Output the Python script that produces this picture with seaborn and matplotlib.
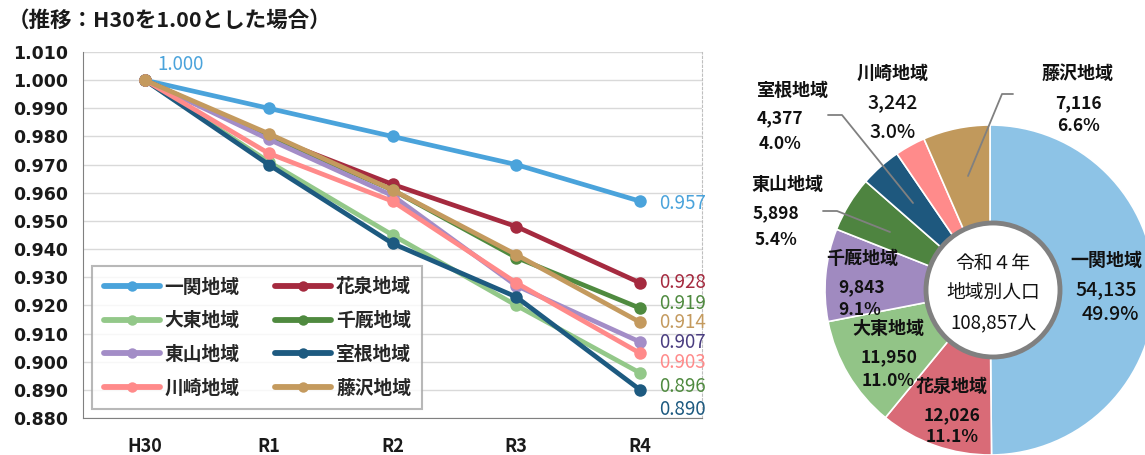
import pandas as pd
import matplotlib
matplotlib.use('Agg')
import matplotlib.pyplot as plt
import seaborn as sns
from matplotlib.patches import Circle
from matplotlib.lines import Line2D

# --- data ---
years = ['H30', 'R1', 'R2', 'R3', 'R4']
regions = ['一関地域', '花泉地域', '大東地域', '千厩地域',
           '東山地域', '室根地域', '川崎地域', '藤沢地域']
ichinoseki = [1.000, 0.990, 0.980, 0.970, 0.957]
hanaizumi = [1.000, 0.980, 0.963, 0.948, 0.928]
daito = [1.000, 0.971, 0.945, 0.920, 0.896]
senmaya = [1.000, 0.980, 0.961, 0.937, 0.919]
higashiyama = [1.000, 0.979, 0.959, 0.927, 0.907]
murone = [1.000, 0.970, 0.942, 0.923, 0.890]
kawasaki = [1.000, 0.974, 0.957, 0.928, 0.903]
fujisawa = [1.000, 0.981, 0.961, 0.938, 0.914]
series = [ichinoseki, hanaizumi, daito, senmaya, higashiyama, murone, kawasaki, fujisawa]

pop_r4 = [54135, 12026, 11950, 9843, 5898, 4377, 3242, 7116]
pct_r4 = ['49.9%', '11.1%', '11.0%', '9.1%', '5.4%', '4.0%', '3.0%', '6.6%']
total_label = '108,857人'

line_colors = ['#4AA3DB', '#A52A3F', '#93C889', '#4F8A3F',
               '#A38DC7', '#1D5A80', '#FF8A8A', '#C49A5E']
end_label_colors = ['#4AA3DB', '#A52A3F', '#4F8A3F', '#4F8A3F',
                    '#4A3D80', '#1D5A80', '#FF8A8A', '#C49A5E']
pie_colors = ['#8DC3E6', '#D96B77', '#92C487', '#A08AC0',
              '#4E8440', '#1E587E', '#FF8B8B', '#C1995C']

sns.set_style('white')
plt.rcParams['font.family'] = ['Noto Sans CJK JP', 'DejaVu Sans']

W, H = 1145, 455
fig = plt.figure(figsize=(W / 100, H / 100), dpi=100)

# ---------------- line chart ----------------
ax = fig.add_axes([83 / W, 37 / H, 619 / W, 366 / H])

df = pd.DataFrame({
    'year': years * len(regions),
    'region': [r for r in regions for _ in years],
    'ratio': [v for s in series for v in s],
})
palette = dict(zip(regions, line_colors))
sns.lineplot(data=df, x='year', y='ratio', hue='region', hue_order=regions,
             palette=palette, marker='o', markersize=9, markeredgewidth=0,
             linewidth=3.4, legend=False, ax=ax, sort=False)

ax.set_xlim(-0.5, 4.5)
ax.set_ylim(0.880, 1.010)
ax.set_yticks([0.880 + 0.010 * i for i in range(14)])
ax.yaxis.set_major_formatter(matplotlib.ticker.FormatStrFormatter('%.3f'))
ax.set_xticks(range(len(years)))
ax.set_xticklabels(years)
ax.set_xticks([0.5 + i for i in range(4)], minor=True)
ax.tick_params(axis='x', which='major', length=0, pad=14)
ax.tick_params(axis='x', which='minor', length=5, color='#808080', direction='out')
ax.tick_params(axis='y', length=5, color='#808080', direction='out', pad=6)
for lab in ax.get_yticklabels():
    lab.set_fontweight('bold')
    lab.set_fontfamily('DejaVu Sans')
    lab.set_fontsize(12.5)
    lab.set_color('#1a1a1a')
for lab in ax.get_xticklabels():
    lab.set_fontweight('bold')
    lab.set_fontsize(13)
    lab.set_color('#1a1a1a')
ax.grid(axis='y', color='#d9d9d9', linewidth=1)
ax.set_axisbelow(True)
ax.set_xlabel('')
ax.set_ylabel('')
ax.spines['top'].set_visible(False)
ax.spines['left'].set_color('#808080')
ax.spines['bottom'].set_color('#808080')
ax.spines['right'].set_color('#bfbfbf')
ax.spines['right'].set_linestyle((0, (2, 2)))

# end-of-line value labels (offsets in points, same order as series)
end_offsets = [-1.5, 0, -10, 3.6, -0.5, -14.4, -6.5, 0]
for s, c, dy in zip(series, end_label_colors, end_offsets):
    ax.annotate(f'{s[-1]:.3f}', xy=(4, s[-1]), xytext=(14, dy),
                textcoords='offset points', va='center', ha='left',
                color=c, fontsize=13.5)
ax.annotate(f'{ichinoseki[0]:.3f}', xy=(0, ichinoseki[0]), xytext=(26, 11),
            textcoords='offset points', va='center', ha='center',
            color=line_colors[0], fontsize=13.5)

# legend, 2 columns filled row by row
order = [0, 2, 4, 6, 1, 3, 5, 7]
handles = [Line2D([], [], color=line_colors[i], linewidth=4.2, marker='o',
                  markersize=7.5, markeredgewidth=0) for i in order]
leg = ax.legend(handles, [regions[i] for i in order], ncol=2,
                loc='lower left', bbox_to_anchor=(0.0, 0.0),
                frameon=True, fancybox=False, edgecolor='#a6a6a6',
                prop={'weight': 'bold', 'size': 13.5}, handlelength=3.0,
                columnspacing=1.9, labelspacing=0.78, borderpad=0.6,
                handletextpad=0.25, borderaxespad=0.5)
leg.get_frame().set_linewidth(1.5)

fig.text(8 / W, 1 - 20 / H, '（推移：H30を1.00とした場合）', fontsize=15.5,
         fontweight='bold', va='center', ha='left', color='#1a1a1a')

# ---------------- pie chart ----------------
cx, cy, R = 990, 290, 165
pax = fig.add_axes([(cx - R) / W, (H - cy - R) / H, 2 * R / W, 2 * R / H])
pax.pie(pop_r4, colors=pie_colors, startangle=90, counterclock=False,
        radius=1, wedgeprops=dict(edgecolor='white', linewidth=1.2))
pax.set_xlim(-1, 1)
pax.set_ylim(-1, 1)
pax.set_aspect('equal')
pax.axis('off')


def px(x, y):
    return (x - cx) / R, (cy - y) / R


pax.add_patch(Circle(px(993, 290), 67 / R, facecolor='white',
                     edgecolor='#808080', linewidth=3.5, zorder=5))
for txt, y in zip(['令和４年', '地域別人口', total_label], [263, 292, 323]):
    pax.text(*px(993, y), txt, ha='center', va='center', fontsize=13.5,
             zorder=6, color='#111111')

# label anchors (name, value, percent) per wedge, in pixel coords
label_pos = [
    [(1106, 260), (1106, 290), (1110, 315)],
    [(952, 386), (952, 415), (952, 437)],
    [(888, 329), (889, 357), (888, 381)],
    [(862, 258), (862, 287), (860, 310)],
    [(787, 185), (776, 213), (776, 240)],
    [(793, 90), (780, 118), (780, 144)],
    [(893, 73), (893, 103), (893, 133)],
    [(1078, 73), (1078, 103), (1078, 126)],
]
for i, pos in enumerate(label_pos):
    big = i in (0, 6)
    pax.text(*px(*pos[0]), regions[i], ha='center', va='center',
             fontsize=13, fontweight='bold', clip_on=False, color='#111111')
    for txt, p in [(f'{pop_r4[i]:,}', pos[1]), (pct_r4[i], pos[2])]:
        pax.text(*px(*p), txt, ha='center', va='center',
                 fontsize=14 if big else 12.5,
                 fontweight='medium' if big else 'bold',
                 clip_on=False, color='#111111')

# leader lines for the small outer labels
leaders = [
    [(1013, 94), (1002, 94), (968, 176)],
    [(828, 115), (842, 115), (913, 203)],
    [(823, 211), (837, 211), (890, 232)],
]
for pts in leaders:
    xs, ys = zip(*[px(*p) for p in pts])
    pax.plot(xs, ys, color='#808080', linewidth=1.3, clip_on=False, zorder=4)

fig.savefig('out.png', dpi=100)
